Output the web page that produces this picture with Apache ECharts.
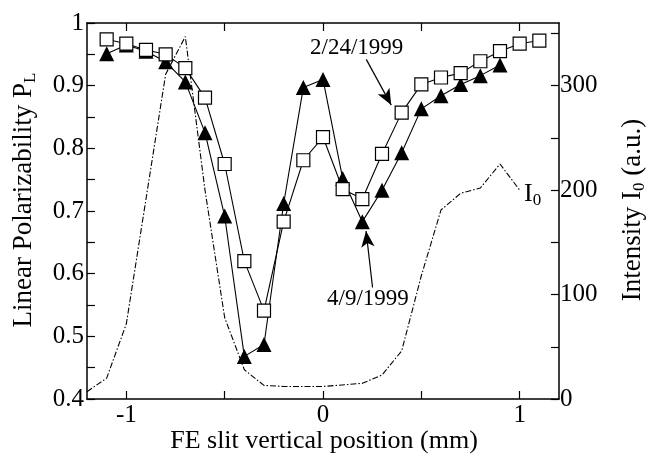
<!DOCTYPE html>
<html>
<head>
<meta charset="utf-8">
<script src="https://cdn.jsdelivr.net/npm/echarts@6/dist/echarts.min.js"></script>
<style>
  html, body { margin: 0; padding: 0; background: #fff; }
  #chart { width: 655px; height: 458px; }
</style>
</head>
<body>
<div id="chart"></div>
<script>
// slit positions (mm)
let positions = [-1.1, -1.0, -0.9, -0.8, -0.7, -0.6, -0.5, -0.4, -0.3, -0.2, -0.1, 0,
    0.1, 0.2, 0.3, 0.4, 0.5, 0.6, 0.7, 0.8, 0.9, 1.0, 1.1];

// 2/24/1999 (open squares)
let plFeb = [0.974, 0.967, 0.957, 0.950, 0.928, 0.881, 0.775, 0.620, 0.541, 0.683, 0.781, 0.818,
    0.735, 0.719, 0.791, 0.857, 0.902, 0.913, 0.920, 0.939, 0.955, 0.967, 0.972];

// 4/9/1999 (filled triangles), no point at 1.1
let plApr = [0.951, 0.965, 0.955, 0.938, 0.906, 0.825, 0.692, 0.468, 0.487, 0.712, 0.897, 0.910,
    0.752, 0.683, 0.733, 0.793, 0.863, 0.884, 0.902, 0.916, 0.933];

// I0 intensity (a.u.)
let i0Pos = [-1.2, -1.1, -1.0, -0.8, -0.7, -0.6, -0.5, -0.4, -0.3, -0.2, 0, 0.2, 0.3, 0.4, 0.5, 0.6, 0.7, 0.8, 0.9, 1.0];
let i0Val = [7, 20, 72, 311, 347, 200, 78, 28, 13, 12, 12, 15, 23, 46, 118, 181, 197, 202, 225, 200];

let xTicks = [-1, -0.5, 0, 0.5, 1];
let xLabels = [-1, 0, 1];
let rTicks = [0, 50, 100, 150, 200, 250, 300, 350];
let rLabels = [0, 100, 200, 300];

let font = 'Liberation Serif, Times New Roman, serif';
let black = '#000';

let zip = (xs, ys) => ys.map((y, i) => [xs[i], y]);

let chart = echarts.init(document.getElementById('chart'));

let tickStyle = { color: black, width: 1.2 };
let axisLineStyle = { color: black, width: 1.5 };

let option = {
    backgroundColor: '#fff',
    animation: false,
    textStyle: { fontFamily: font, color: black },
    grid: { left: 87, right: 96, top: 23, bottom: 59 },
    xAxis: [
        {
            type: 'value', min: -1.2, max: 1.2,
            axisLine: { onZero: false, lineStyle: axisLineStyle },
            axisTick: { inside: true, length: 8, customValues: xTicks, lineStyle: tickStyle },
            axisLabel: { customValues: xLabels, fontSize: 25, color: black, margin: 4, fontFamily: font },
            splitLine: { show: false }
        },
        {
            type: 'value', min: -1.2, max: 1.2, position: 'top',
            axisLine: { onZero: false, lineStyle: axisLineStyle },
            axisTick: { inside: true, length: 8, customValues: xTicks, lineStyle: tickStyle },
            axisLabel: { show: false },
            splitLine: { show: false }
        }
    ],
    yAxis: [
        {
            type: 'value', min: 0.4, max: 1, interval: 0.1,
            axisLine: { show: true, onZero: false, lineStyle: axisLineStyle },
            axisTick: { inside: true, length: 8, lineStyle: tickStyle },
            minorTick: { show: true, splitNumber: 2, length: 8, lineStyle: tickStyle },
            axisLabel: {
                fontSize: 25, color: black, margin: 3, fontFamily: font,
                formatter: v => (Math.abs(v - 1) < 1e-9 ? '1' : v.toFixed(1))
            },
            splitLine: { show: false }
        },
        {
            type: 'value', min: 0, max: 360, position: 'right',
            axisLine: { show: true, onZero: false, lineStyle: axisLineStyle },
            axisTick: { inside: true, length: 8, customValues: rTicks, lineStyle: tickStyle },
            axisLabel: { customValues: rLabels, fontSize: 25, color: black, margin: 1, fontFamily: font },
            splitLine: { show: false }
        }
    ],
    series: [
        {
            name: 'I0', type: 'line', yAxisIndex: 1,
            data: zip(i0Pos, i0Val),
            showSymbol: false, symbol: 'none',
            lineStyle: { color: black, width: 1.1, type: [6, 2, 1.5, 2] },
            z: 1
        },
        {
            name: '4/9/1999', type: 'line',
            data: zip(positions, plApr),
            symbol: 'triangle', symbolSize: 15,
            itemStyle: { color: black },
            lineStyle: { color: black, width: 1.1 },
            z: 2,
            markLine: {
                silent: true, symbol: ['none', 'arrow'], symbolSize: [10, 16],
                label: { show: false },
                lineStyle: { color: black, width: 1.2, type: 'solid' },
                data: [
                    [{ coord: [0.252, 0.578] }, { coord: [0.219, 0.668] }],
                    [{ coord: [0.220, 0.942] }, { coord: [0.347, 0.869] }]
                ]
            }
        },
        {
            name: '2/24/1999', type: 'line',
            data: zip(positions, plFeb),
            symbol: 'rect', symbolSize: 13,
            itemStyle: { color: '#fff', borderColor: black, borderWidth: 1.2 },
            lineStyle: { color: black, width: 1.1 },
            z: 3
        }
    ],
    graphic: [
        { type: 'text', left: 310, top: 36, style: { text: '2/24/1999', font: '23px ' + font, fill: black } },
        { type: 'text', left: 327, top: 287, style: { text: '4/9/1999', font: '23px ' + font, fill: black } },
        {
            type: 'text', left: 524, top: 181,
            style: {
                text: 'I{s|0}', fill: black, font: '26px ' + font,
                rich: { s: { fontSize: 17, fontFamily: font, padding: [14, 0, 0, 0], fill: black } }
            }
        },
        {
            type: 'text', x: 324, y: 441,
            style: {
                text: 'FE slit vertical position (mm)', font: '26px ' + font, fill: black,
                align: 'center', verticalAlign: 'middle'
            }
        },
        {
            type: 'text', x: 24, y: 200, rotation: Math.PI / 2,
            style: {
                text: 'Linear Polarizability P{s|L}', font: '27px ' + font, fill: black,
                align: 'center', verticalAlign: 'middle',
                rich: { s: { fontSize: 17, fontFamily: font, padding: [14, 0, 0, 0], fill: black } }
            }
        },
        {
            type: 'text', x: 633, y: 210, rotation: Math.PI / 2,
            style: {
                text: 'Intensity I{s|0} (a.u.)', font: '27px ' + font, fill: black,
                align: 'center', verticalAlign: 'middle',
                rich: { s: { fontSize: 17, fontFamily: font, padding: [14, 0, 0, 0], fill: black } }
            }
        }
    ]
};

chart.setOption(option);
</script>
</body>
</html>
